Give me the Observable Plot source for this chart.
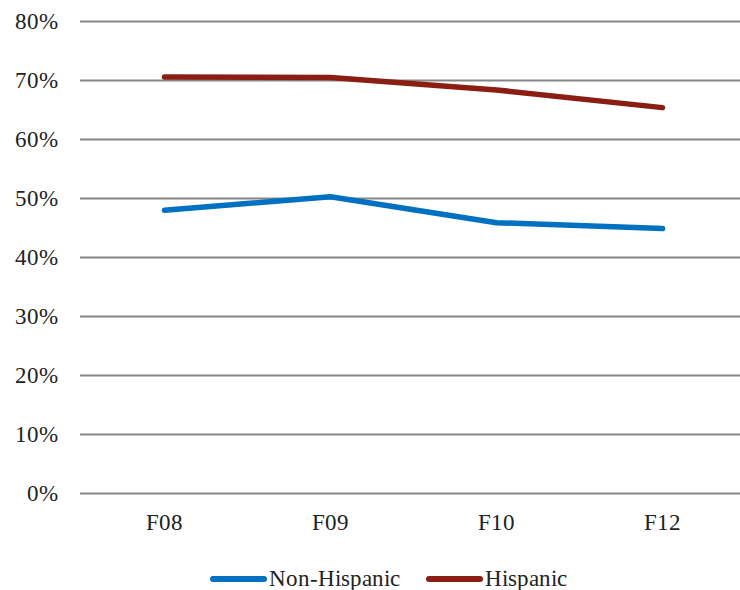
<!DOCTYPE html>
<html>
<head>
<meta charset="utf-8">
<script src="https://cdn.jsdelivr.net/npm/d3@7"></script>
<script src="https://cdn.jsdelivr.net/npm/@observablehq/plot@0.6"></script>
<style>
  @font-face { font-family: "ChartSerif"; src: local("Liberation Serif"), local("LiberationSerif"), local("Times New Roman"); }
  body { margin: 0; background: #fff; font-family: "ChartSerif", "Liberation Serif", "Times New Roman", serif; }
  #chart svg { display: block; }
  #chart svg, #chart svg text { font-family: "ChartSerif", "Liberation Serif", "Times New Roman", serif !important; }
  .legend { display: flex; align-items: center; height: 30px; margin-top: 19px; padding-left: 210px; font-size: 23px; color: #222; }
  .legend, .legend span { font-family: "ChartSerif", "Liberation Serif", "Times New Roman", serif !important; }
  .legend .item { display: flex; align-items: center; margin-right: 26px; }
  .legend .swatch { width: 57px; height: 5.5px; border-radius: 3px; margin-right: 2px; }
</style>
</head>
<body>
<div id="chart"></div>
<script>
const years = ["F08", "F09", "F10", "F12"];
const seriesNames = ["Non-Hispanic", "Hispanic"];
const seriesColors = ["#0070C0", "#8A1E12"];
const nonHispanic = [0.480, 0.503, 0.459, 0.449];
const hispanic = [0.706, 0.705, 0.684, 0.654];
const yTicks = [0, 0.1, 0.2, 0.3, 0.4, 0.5, 0.6, 0.7, 0.8];

const fontStack = "ChartSerif, 'Liberation Serif', 'Times New Roman', serif";

const rows = [
  ...years.map((year, i) => ({year, series: seriesNames[0], value: nonHispanic[i]})),
  ...years.map((year, i) => ({year, series: seriesNames[1], value: hispanic[i]}))
];

const chart = Plot.plot({
  width: 740,
  height: 545,
  marginTop: 21,
  marginBottom: 52,
  marginLeft: 80,
  marginRight: 0,
  style: {fontSize: "23px", fontFamily: fontStack, color: "#222", background: "#fff"},
  x: {type: "point", domain: years, range: [163, 663], padding: 0, label: null},
  y: {domain: [0, 0.8], ticks: yTicks, tickFormat: d3.format(".0%"), label: null},
  color: {domain: seriesNames, range: seriesColors},
  marks: [
    Plot.gridY(yTicks, {stroke: "#868686", strokeOpacity: 1, strokeWidth: 2}),
    Plot.axisY(yTicks, {tickSize: 0, tickPadding: 23, tickFormat: d3.format(".0%"), label: null, fontFamily: fontStack, fontSize: 23}),
    Plot.axisX({tickSize: 0, tickPadding: 20, label: null, fontFamily: fontStack, fontSize: 23}),
    Plot.line(rows, {x: "year", y: "value", z: "series", stroke: "series", strokeWidth: 5.5, strokeLinecap: "round", strokeLinejoin: "round"})
  ]
});
document.getElementById("chart").append(chart);

const legend = document.createElement("div");
legend.className = "legend";
seriesNames.forEach((name, i) => {
  const item = document.createElement("div");
  item.className = "item";
  const sw = document.createElement("span");
  sw.className = "swatch";
  sw.style.background = seriesColors[i];
  const label = document.createElement("span");
  label.textContent = name;
  item.append(sw, label);
  legend.append(item);
});
document.body.append(legend);
</script>
</body>
</html>
